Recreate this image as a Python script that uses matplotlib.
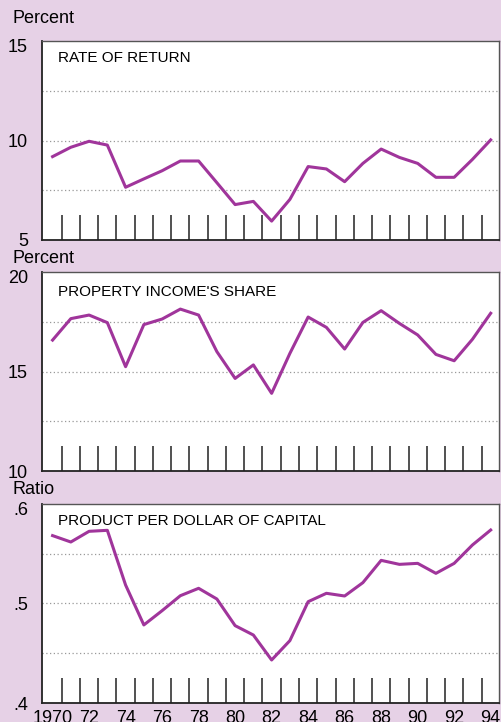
import matplotlib.pyplot as plt
from matplotlib.ticker import FixedLocator
from matplotlib.transforms import ScaledTranslation

years = list(range(1970, 1995))

rate_of_return = [9.19, 9.66, 9.96, 9.77, 7.65, 8.07, 8.48, 8.97, 8.97, 7.88,
                  6.78, 6.94, 5.95, 7.04, 8.69, 8.57, 7.93, 8.85, 9.57, 9.15,
                  8.85, 8.15, 8.15, 9.05, 10.03]

property_share = [16.59, 17.67, 17.85, 17.47, 15.25, 17.37, 17.65, 18.15, 17.85, 16.01,
                  14.66, 15.34, 13.91, 15.92, 17.75, 17.23, 16.14, 17.48, 18.07, 17.43,
                  16.85, 15.87, 15.55, 16.63, 17.94]

product_per_dollar = [0.568, 0.5616, 0.5723, 0.5733, 0.5185, 0.4785, 0.4928, 0.5078, 0.5152, 0.5045,
                      0.4778, 0.4684, 0.4434, 0.4628, 0.5018, 0.5102, 0.5075, 0.5209, 0.5432, 0.5392,
                      0.5402, 0.5302, 0.5402, 0.5586, 0.5736]

panel_titles = ["RATE OF RETURN", "PROPERTY INCOME'S SHARE", "PRODUCT PER DOLLAR OF CAPITAL"]
unit_labels = ["Percent", "Percent", "Ratio"]
y_ranges = [(5, 15), (10, 20), (0.4, 0.6)]
y_ticks = [[5, 10, 15], [10, 15, 20], [0.4, 0.5, 0.6]]
y_ticklabels = [["5", "10", "15"], ["10", "15", "20"], [".4", ".5", ".6"]]
grid_levels = [[7.5, 10, 12.5], [12.5, 15, 17.5], [0.45, 0.5, 0.55]]
x_labels = ["1970", "72", "74", "76", "78", "80", "82", "84", "86", "88", "90", "92", "94"]

bg = "#e6d1e6"
line_color = "#a0359b"

plt.rcParams['font.family'] = ['Liberation Sans', 'DejaVu Sans']

fig = plt.figure(figsize=(5.01, 7.22), dpi=100, facecolor=bg)

# axes boxes in figure fraction: left, bottom, width, height
boxes = [[0.0838, 0.6676, 0.912, 0.2756],
         [0.0838, 0.3476, 0.912, 0.2752],
         [0.0838, 0.0259, 0.912, 0.2765]]
series = [rate_of_return, property_share, product_per_dollar]
title_y = [0.915, 0.90, 0.915]
unit_offset = [23, 14, 14]  # px above the panel top

for i in range(3):
    ax = fig.add_axes(boxes[i])
    ax.set_facecolor("white")
    for lv in grid_levels[i]:
        ax.axhline(lv, color="#999999", lw=0.9, ls=(0, (1, 2)), zorder=1)
    ax.plot(years, series[i], color=line_color, lw=2.2, zorder=3)

    ax.set_xlim(1969.42, 1994.45)
    ax.set_ylim(*y_ranges[i])
    ax.set_yticks(y_ticks[i])
    ax.set_yticklabels(y_ticklabels[i])
    ax.tick_params(axis='y', length=0, pad=10, labelsize=13)
    # top label sits a bit lower in the original
    top_lab = ax.get_yticklabels()[-1]
    top_lab.set_transform(top_lab.get_transform() + ScaledTranslation(0, -0.045, fig.dpi_scale_trans))

    ax.set_xticks(years[::2])
    if i == 2:
        ax.set_xticklabels(x_labels)
    else:
        ax.set_xticklabels([])
    ax.xaxis.set_minor_locator(FixedLocator([y + 0.5 for y in years[:-1]]))
    ax.tick_params(axis='x', which='major', length=0, pad=5, labelsize=13)
    ax.tick_params(axis='x', which='minor', direction='in', length=18, width=1.1, color="#222222")

    for s in ['left', 'bottom']:
        ax.spines[s].set_color("#222222")
        ax.spines[s].set_linewidth(1.3)
    for s in ['top', 'right']:
        ax.spines[s].set_color("#555555")
        ax.spines[s].set_linewidth(1.0)

    ax.text(0.035, title_y[i], panel_titles[i], transform=ax.transAxes,
            fontsize=11, va='center', ha='left')

    # unit label above each panel
    top = boxes[i][1] + boxes[i][3]
    fig.text(12 / 501, top + unit_offset[i] / 722, unit_labels[i], fontsize=13, ha='left', va='center')

fig.savefig("out.png", dpi=100, facecolor=bg)
